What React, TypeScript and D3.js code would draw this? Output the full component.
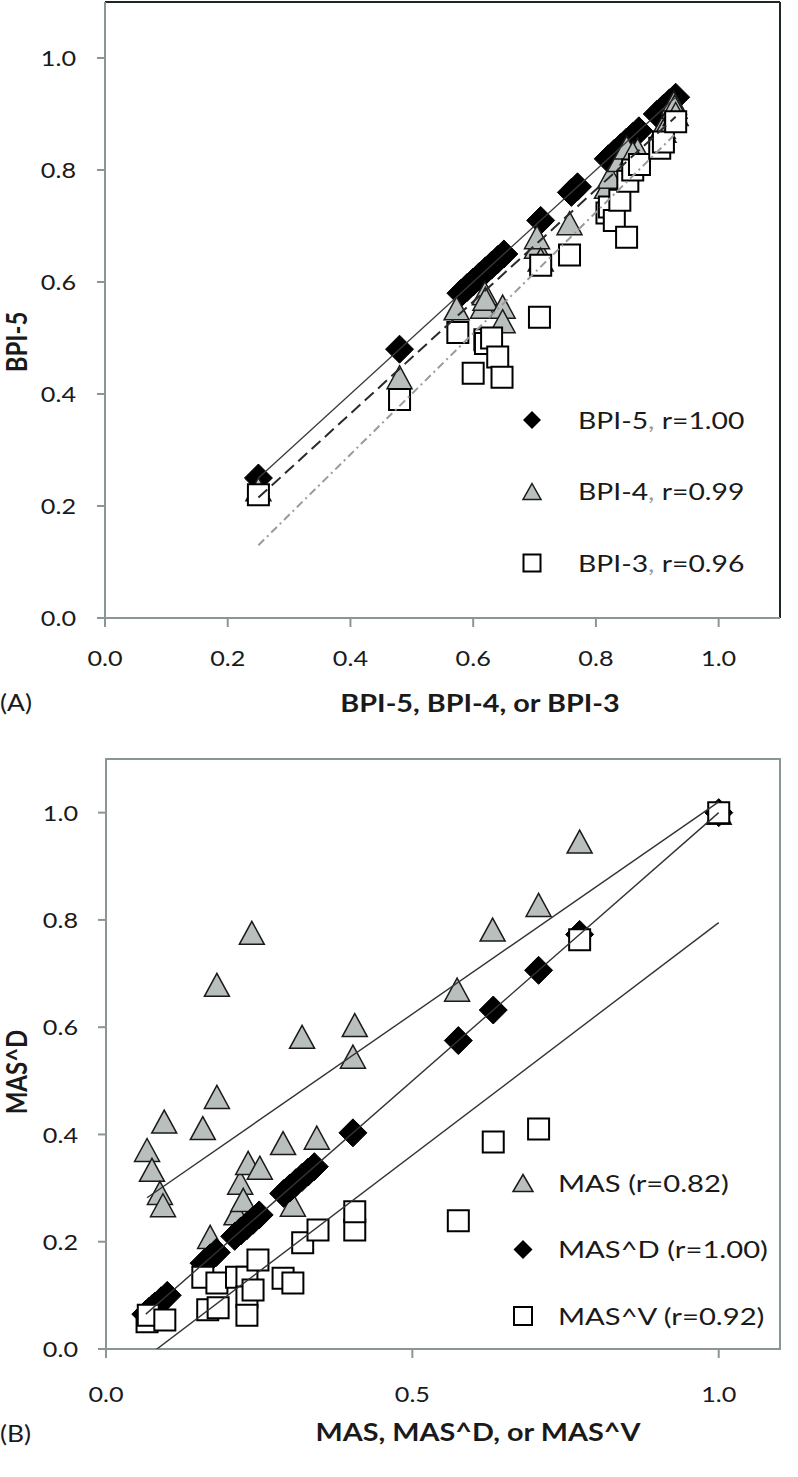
import React from "react";
import * as d3 from "d3";

// ---------- Panel A data ----------
const A_BPI5_X = [0.25, 0.48, 0.58, 0.59, 0.6, 0.61, 0.62, 0.63, 0.64, 0.65, 0.71, 0.76, 0.77, 0.82, 0.83, 0.84, 0.85, 0.86, 0.87, 0.9, 0.91, 0.92, 0.93];
const A_BPI5_Y = [0.25, 0.48, 0.58, 0.59, 0.6, 0.61, 0.62, 0.63, 0.64, 0.65, 0.71, 0.76, 0.77, 0.82, 0.83, 0.84, 0.85, 0.86, 0.87, 0.9, 0.91, 0.92, 0.93];
const A_BPI4_X = [0.25, 0.48, 0.573, 0.616, 0.619, 0.62, 0.648, 0.648, 0.704, 0.704, 0.71, 0.757, 0.818, 0.823, 0.839, 0.85, 0.868, 0.86, 0.909, 0.91, 0.927, 0.928, 0.93];
const A_BPI4_Y = [0.23, 0.43, 0.553, 0.556, 0.58, 0.57, 0.556, 0.53, 0.663, 0.68, 0.64, 0.705, 0.77, 0.788, 0.818, 0.84, 0.836, 0.83, 0.877, 0.87, 0.92, 0.913, 0.9];
const A_BPI3_X = [0.25, 0.48, 0.575, 0.6, 0.619, 0.62, 0.63, 0.64, 0.647, 0.708, 0.71, 0.757, 0.818, 0.822, 0.83, 0.839, 0.85, 0.852, 0.86, 0.871, 0.904, 0.91, 0.93];
const A_BPI3_Y = [0.22, 0.39, 0.51, 0.437, 0.497, 0.49, 0.5, 0.466, 0.43, 0.537, 0.63, 0.648, 0.723, 0.734, 0.71, 0.746, 0.68, 0.78, 0.8, 0.81, 0.839, 0.85, 0.886];
const A_X_TICKS = [0, 0.2, 0.4, 0.6, 0.8, 1.0];
const A_Y_TICKS = [0, 0.2, 0.4, 0.6, 0.8, 1.0];
// trend lines [x1, y1, x2, y2]
const A_TREND_BPI5 = [0.25, 0.25, 0.93, 0.93];
const A_TREND_BPI4 = [0.25, 0.215, 0.93, 0.895];
const A_TREND_BPI3 = [0.25, 0.13, 0.93, 0.865];
const A_LEGEND = ["BPI-5", "BPI-4", "BPI-3"];
const A_LEGEND_R = ["r=1.00", "r=0.99", "r=0.96"];

// ---------- Panel B data ----------
const B_MAS_X = [0.067, 0.075, 0.088, 0.093, 0.095, 0.158, 0.17, 0.181, 0.181, 0.213, 0.219, 0.224, 0.232, 0.238, 0.251, 0.289, 0.305, 0.32, 0.344, 0.403, 0.406, 0.573, 0.631, 0.706, 0.773, 1.0];
const B_MAS_Y = [0.371, 0.334, 0.291, 0.268, 0.424, 0.412, 0.209, 0.47, 0.679, 0.253, 0.31, 0.278, 0.347, 0.776, 0.338, 0.384, 0.269, 0.582, 0.394, 0.545, 0.604, 0.67, 0.782, 0.828, 0.946, 1.0];
const B_MASD_X = [0.065, 0.07, 0.075, 0.08, 0.09, 0.1, 0.16, 0.17, 0.18, 0.21, 0.22, 0.23, 0.24, 0.25, 0.29, 0.3, 0.31, 0.32, 0.33, 0.34, 0.403, 0.575, 0.632, 0.706, 0.773, 1.0];
const B_MASD_Y = [0.065, 0.07, 0.075, 0.08, 0.09, 0.1, 0.16, 0.17, 0.18, 0.21, 0.22, 0.23, 0.24, 0.25, 0.29, 0.3, 0.31, 0.32, 0.33, 0.34, 0.403, 0.575, 0.632, 0.706, 0.773, 1.0];
const B_MASV_X = [0.067, 0.069, 0.096, 0.158, 0.166, 0.181, 0.183, 0.213, 0.23, 0.23, 0.23, 0.24, 0.248, 0.289, 0.305, 0.321, 0.346, 0.406, 0.406, 0.575, 0.632, 0.706, 0.773, 1.0];
const B_MASV_Y = [0.051, 0.063, 0.054, 0.134, 0.073, 0.123, 0.077, 0.134, 0.134, 0.097, 0.063, 0.11, 0.166, 0.132, 0.123, 0.198, 0.222, 0.222, 0.256, 0.239, 0.386, 0.41, 0.763, 1.0];
const B_X_TICKS = [0, 0.5, 1.0];
const B_Y_TICKS = [0, 0.2, 0.4, 0.6, 0.8, 1.0];
const B_TREND_MAS = [0.067, 0.282, 1.0, 1.02];
const B_TREND_MASD = [0.065, 0.065, 1.0, 1.0];
const B_TREND_MASV = [0.067, -0.014, 1.0, 0.795];
const B_LEGEND = ["MAS", "MAS^D", "MAS^V"];
const B_LEGEND_R = ["(r=0.82)", "(r=1.00)", "(r=0.92)"];

const FONT = "Lato, 'Open Sans', sans-serif";
const SX = 1.2;

const zip = (xs: number[], ys: number[]) => xs.map((x, i) => [x, ys[i]] as [number, number]);

const diamond = (cx: number, cy: number, r: number) =>
  `M${cx},${cy - r}L${cx + r},${cy}L${cx},${cy + r}L${cx - r},${cy}Z`;
const triangle = (cx: number, cy: number, w: number, h: number) =>
  `M${cx},${cy - h / 2}L${cx + w / 2},${cy + h / 2}L${cx - w / 2},${cy + h / 2}Z`;
const square = (cx: number, cy: number, s: number) =>
  `M${cx - s / 2},${cy - s / 2}h${s}v${s}h${-s}Z`;

function T(props: {
  x: number; y: number; children: any; anchor?: string; size?: number; weight?: number; rotate?: number; fill?: string; sx?: number;
}) {
  const { x, y, children, anchor = "start", size = 21, weight = 400, rotate = 0, fill = "#1a1a1a", sx = SX } = props;
  return (
    <text
      transform={`translate(${x},${y}) scale(${sx},1)${rotate ? ` rotate(${rotate})` : ""}`}
      textAnchor={anchor as any}
      dominantBaseline="central"
      fontSize={size}
      fontWeight={weight}
      fontFamily={FONT}
      fill={fill}
    >
      {children}
    </text>
  );
}

const TRI_FILL = "#b8bfbd";

function PanelA() {
  const x = d3.scaleLinear().domain([0, 1.1]).range([105, 780]);
  const y = d3.scaleLinear().domain([0, 1.1]).range([618, 2]);
  const line = (t: number[]) => `M${x(t[0])},${y(t[1])}L${x(t[2])},${y(t[3])}`;
  return (
    <g>
      <defs>
        <clipPath id="clipA">
          <rect x={105} y={2} width={675} height={616} />
        </clipPath>
      </defs>
      <line x1={105} y1={2} x2={780} y2={2} stroke="#1f2626" strokeWidth={2} />
      <line x1={780} y1={2} x2={780} y2={618} stroke="#1f2626" strokeWidth={2} />
      <line x1={105} y1={2} x2={105} y2={618} stroke="#8a9696" strokeWidth={2} />
      <line x1={105} y1={618} x2={780} y2={618} stroke="#8a9696" strokeWidth={2} />
      {A_Y_TICKS.map((t) => (
        <g key={"ay" + t}>
          <line x1={97} x2={105} y1={y(t)} y2={y(t)} stroke="#8a9696" strokeWidth={2} />
          <T x={76} y={y(t)} anchor="end" size={21}>{t.toFixed(1)}</T>
        </g>
      ))}
      {A_X_TICKS.map((t) => (
        <g key={"ax" + t}>
          <line x1={x(t)} x2={x(t)} y1={618} y2={627} stroke="#8a9696" strokeWidth={2} />
          <T x={x(t)} y={658} anchor="middle" size={21}>{t.toFixed(1)}</T>
        </g>
      ))}
      <T x={480} y={703} anchor="middle" size={24} weight={700}>BPI-5, BPI-4, or BPI-3</T>
      <T x={16} y={342} anchor="middle" size={24} weight={700} rotate={-90}>BPI-5</T>
      <T x={0} y={701} size={24} sx={1.1}>(A)</T>
      <g clipPath="url(#clipA)">
        {zip(A_BPI5_X, A_BPI5_Y).map(([a, b], i) => (
          <path key={"d" + i} d={diamond(x(a), y(b), 14)} fill="#000" stroke="#000" strokeWidth={1} />
        ))}
        {zip(A_BPI4_X, A_BPI4_Y).map(([a, b], i) => (
          <path key={"t" + i} d={triangle(x(a), y(b), 25, 23)} fill={TRI_FILL} stroke="#1a1a1a" strokeWidth={1.5} />
        ))}
        {zip(A_BPI3_X, A_BPI3_Y).map(([a, b], i) => (
          <path key={"s" + i} d={square(x(a), y(b), 21)} fill="#fff" stroke="#000" strokeWidth={2} />
        ))}
        <path d={line(A_TREND_BPI5)} stroke="#3a3a3a" strokeWidth={1.3} fill="none" />
        <path d={line(A_TREND_BPI4)} stroke="#2a2a2a" strokeWidth={2} strokeDasharray="12,6" fill="none" />
        <path d={line(A_TREND_BPI3)} stroke="#9a9a9a" strokeWidth={2} strokeDasharray="8,4,2,4" fill="none" />
      </g>
      {A_LEGEND.map((name, i) => {
        const cy = 420 + i * 71.5;
        const cx = 532;
        const mk =
          i === 0 ? (
            <path d={diamond(cx, cy, 9)} fill="#000" />
          ) : i === 1 ? (
            <path d={triangle(cx, cy, 18, 16)} fill={TRI_FILL} stroke="#1a1a1a" strokeWidth={1.5} />
          ) : (
            <path d={square(cx, cy, 17)} fill="#fff" stroke="#000" strokeWidth={2} />
          );
        return (
          <g key={"la" + i}>
            {mk}
            <T x={578} y={cy} size={23} sx={1.23}>
              {name}
              <tspan fill="#9a9a9a">,</tspan> {A_LEGEND_R[i]}
            </T>
          </g>
        );
      })}
    </g>
  );
}

function PanelB() {
  const x = d3.scaleLinear().domain([0, 1.1]).range([106, 780]);
  const y = d3.scaleLinear().domain([0, 1.1]).range([1349, 759]);
  const line = (t: number[]) => `M${x(t[0])},${y(t[1])}L${x(t[2])},${y(t[3])}`;
  return (
    <g>
      <defs>
        <clipPath id="clipB">
          <rect x={106} y={759} width={674} height={590} />
        </clipPath>
      </defs>
      <rect x={106} y={759} width={674} height={590} fill="none" stroke="#8a9696" strokeWidth={2} />
      {B_Y_TICKS.map((t) => (
        <g key={"by" + t}>
          <line x1={98} x2={106} y1={y(t)} y2={y(t)} stroke="#8a9696" strokeWidth={2} />
          <T x={78} y={y(t)} anchor="end" size={21}>{t.toFixed(1)}</T>
        </g>
      ))}
      {B_X_TICKS.map((t) => (
        <g key={"bx" + t}>
          <line x1={x(t)} x2={x(t)} y1={1349} y2={1358} stroke="#8a9696" strokeWidth={2} />
          <T x={x(t)} y={1394} anchor="middle" size={21}>{t.toFixed(1)}</T>
        </g>
      ))}
      <T x={478} y={1432} anchor="middle" size={24} weight={700}>MAS, MAS^D, or MAS^V</T>
      <T x={16} y={1072} anchor="middle" size={24} weight={700} rotate={-90}>MAS^D</T>
      <T x={0} y={1432} size={24} sx={1.1}>(B)</T>
      <g clipPath="url(#clipB)">
        {zip(B_MAS_X, B_MAS_Y).map(([a, b], i) => (
          <path key={"t" + i} d={triangle(x(a), y(b), 25, 23)} fill={TRI_FILL} stroke="#1a1a1a" strokeWidth={1.5} />
        ))}
        {zip(B_MASD_X, B_MASD_Y).map(([a, b], i) => (
          <path key={"d" + i} d={diamond(x(a), y(b), 14)} fill="#000" stroke="#000" strokeWidth={1} />
        ))}
        {zip(B_MASV_X, B_MASV_Y).map(([a, b], i) => (
          <path key={"s" + i} d={square(x(a), y(b), 21)} fill="#fff" stroke="#000" strokeWidth={2} />
        ))}
        <path d={line(B_TREND_MAS)} stroke="#333" strokeWidth={1.4} fill="none" />
        <path d={line(B_TREND_MASD)} stroke="#333" strokeWidth={1.4} fill="none" />
        <path d={line(B_TREND_MASV)} stroke="#333" strokeWidth={1.4} fill="none" />
      </g>
      {B_LEGEND.map((name, i) => {
        const cy = 1183 + i * 66.5;
        const cx = 523;
        const mk =
          i === 0 ? (
            <path d={triangle(cx, cy, 20, 17)} fill={TRI_FILL} stroke="#1a1a1a" strokeWidth={1.5} />
          ) : i === 1 ? (
            <path d={diamond(cx, cy, 9.5)} fill="#000" />
          ) : (
            <path d={square(cx, cy, 18)} fill="#fff" stroke="#000" strokeWidth={2} />
          );
        return (
          <g key={"lb" + i}>
            {mk}
            <T x={558} y={cy} size={23} sx={1.27}>
              {name} {B_LEGEND_R[i]}
            </T>
          </g>
        );
      })}
    </g>
  );
}

export default function App() {
  return (
    <div style={{ position: "absolute", left: 0, top: 0 }}>
      <svg width={798} height={1477} style={{ display: "block", background: "#fff" }}>
        <rect x={0} y={0} width={798} height={1477} fill="#fff" />
        <PanelA />
        <PanelB />
      </svg>
    </div>
  );
}
